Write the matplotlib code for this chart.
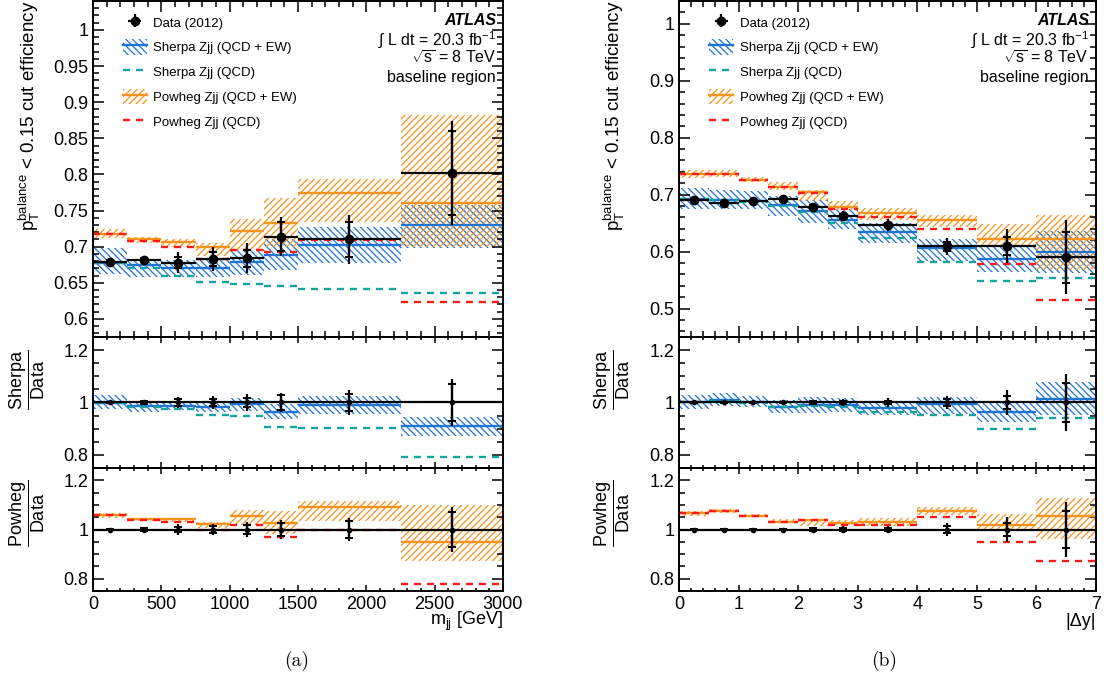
import numpy as np
import matplotlib.pyplot as plt
from matplotlib.ticker import MultipleLocator, FuncFormatter
from matplotlib.patches import Patch
from matplotlib.lines import Line2D

plt.rcParams['font.family'] = ['Liberation Sans', 'DejaVu Sans']
plt.rcParams['mathtext.fontset'] = 'custom'
plt.rcParams['mathtext.rm'] = 'Liberation Sans'
plt.rcParams['mathtext.it'] = 'Liberation Sans:italic'
plt.rcParams['mathtext.bf'] = 'Liberation Sans:bold'
plt.rcParams['hatch.linewidth'] = 0.9

BLUE = '#1f74d4'
ORANGE = '#f7931e'
TEAL = '#17a2a2'
RED = '#ff1a1a'

# (a) efficiency vs m_jj
mjj_edges = [0, 250, 500, 750, 1000, 1250, 1500, 2250, 3000]
mjj_data = [0.679, 0.682, 0.678, 0.683, 0.684, 0.714, 0.710, 0.802]
mjj_stat = [0.002, 0.003, 0.008, 0.010, 0.012, 0.020, 0.024, 0.058]
mjj_tot = [0.003, 0.005, 0.014, 0.016, 0.021, 0.027, 0.034, 0.072]
mjj_sherpa = [0.678, 0.674, 0.670, 0.671, 0.679, 0.688, 0.703, 0.730]
mjj_sherpa_lo = [0.662, 0.658, 0.658, 0.658, 0.661, 0.668, 0.678, 0.698]
mjj_sherpa_hi = [0.698, 0.682, 0.681, 0.681, 0.695, 0.711, 0.727, 0.757]
mjj_sherpa_qcd = [0.678, 0.670, 0.660, 0.651, 0.648, 0.646, 0.642, 0.636]
mjj_powheg = [0.718, 0.710, 0.707, 0.699, 0.722, 0.733, 0.774, 0.760]
mjj_powheg_lo = [0.712, 0.705, 0.700, 0.687, 0.696, 0.700, 0.734, 0.700]
mjj_powheg_hi = [0.724, 0.713, 0.711, 0.705, 0.738, 0.767, 0.793, 0.882]
mjj_powheg_qcd = [0.718, 0.708, 0.700, 0.683, 0.696, 0.692, 0.709, 0.623]

# (b) efficiency vs |delta y|
dy_edges = [0, 0.5, 1, 1.5, 2, 2.5, 3, 4, 5, 6, 7]
dy_data = [0.691, 0.685, 0.688, 0.692, 0.678, 0.662, 0.647, 0.609, 0.610, 0.590]
dy_stat = [0.002, 0.002, 0.002, 0.002, 0.003, 0.004, 0.004, 0.008, 0.016, 0.045]
dy_tot = [0.003, 0.003, 0.003, 0.004, 0.006, 0.009, 0.010, 0.015, 0.030, 0.065]
dy_sherpa = [0.693, 0.691, 0.688, 0.681, 0.671, 0.656, 0.634, 0.606, 0.587, 0.599]
dy_sherpa_lo = [0.675, 0.675, 0.675, 0.663, 0.651, 0.639, 0.615, 0.583, 0.565, 0.562]
dy_sherpa_hi = [0.712, 0.709, 0.706, 0.698, 0.691, 0.674, 0.651, 0.622, 0.608, 0.636]
dy_sherpa_qcd = [0.692, 0.690, 0.687, 0.680, 0.669, 0.651, 0.624, 0.581, 0.548, 0.554]
dy_powheg = [0.736, 0.736, 0.726, 0.714, 0.704, 0.679, 0.668, 0.656, 0.622, 0.622]
dy_powheg_lo = [0.729, 0.731, 0.722, 0.709, 0.688, 0.673, 0.656, 0.644, 0.609, 0.568]
dy_powheg_hi = [0.744, 0.743, 0.731, 0.722, 0.708, 0.688, 0.677, 0.665, 0.649, 0.665]
dy_powheg_qcd = [0.736, 0.736, 0.726, 0.714, 0.703, 0.674, 0.660, 0.639, 0.578, 0.515]

labels = ['Data (2012)', 'Sherpa Zjj (QCD + EW)', 'Sherpa Zjj (QCD)',
          'Powheg Zjj (QCD + EW)', 'Powheg Zjj (QCD)']

HATCH_B = '\\\\\\\\\\'
HATCH_O = '/////'
DASH = (0, (3.0, 2.5))


def band(ax, edges, lo, hi, color, hatch):
    e = np.asarray(edges, float)
    lo = np.asarray(lo)
    ax.bar(e[:-1], np.asarray(hi) - lo, width=np.diff(e), bottom=lo, align='edge',
           facecolor='none', edgecolor=color, hatch=hatch, linewidth=0, zorder=1)


def steps(ax, edges, vals, color, dashed=False):
    e = np.asarray(edges, float)
    ls = DASH if dashed else '-'
    ax.hlines(vals, e[:-1], e[1:], colors=color, linewidth=1.7, linestyles=ls, zorder=2)


def data_pts(ax, edges, vals, stat, tot, ms=6):
    e = np.asarray(edges, float)
    c = 0.5 * (e[:-1] + e[1:])
    eb = ax.errorbar(c, vals, yerr=tot, xerr=np.diff(e) / 2, fmt='o', color='k',
                     ms=ms, lw=1.6, capsize=0, zorder=5)
    ax.errorbar(c, vals, yerr=stat, fmt='none', ecolor='k', lw=1.6,
                capsize=3, capthick=1.4, zorder=5)
    return eb


def style(ax, xmaj, xmin, ymaj, ymin, small_x=False):
    ax.xaxis.set_major_locator(MultipleLocator(xmaj))
    ax.xaxis.set_minor_locator(MultipleLocator(xmin))
    ax.yaxis.set_major_locator(MultipleLocator(ymaj))
    ax.yaxis.set_minor_locator(MultipleLocator(ymin))
    ax.yaxis.set_major_formatter(FuncFormatter(lambda v, p: '%g' % round(v, 4)))
    ax.tick_params(which='both', direction='in', top=True, right=True,
                   labelsize=13, width=1.1)
    ax.tick_params(axis='y', which='major', length=8)
    ax.tick_params(axis='y', which='minor', length=4)
    if small_x:
        ax.tick_params(axis='x', which='major', length=4)
        ax.tick_params(axis='x', which='minor', length=2)
    else:
        ax.tick_params(axis='x', which='major', length=8)
        ax.tick_params(axis='x', which='minor', length=4)
    for s in ax.spines.values():
        s.set_linewidth(1.4)


def ratio(ax, edges, data, stat, tot, model, lo, hi, qcd, color, hatch):
    d = np.asarray(data)
    band(ax, edges, np.asarray(lo) / d, np.asarray(hi) / d, color, hatch)
    steps(ax, edges, np.asarray(model) / d, color)
    steps(ax, edges, np.asarray(qcd) / d, TEAL if color == BLUE else RED, dashed=True)
    ax.axhline(1, color='k', lw=1.3, zorder=4)
    data_pts(ax, edges, np.ones_like(d), np.asarray(stat) / d, np.asarray(tot) / d, ms=3)
    ax.set_ylim(0.75, 1.25)


fig = plt.figure(figsize=(11.13, 6.9), dpi=100)

panels = [
    (93, 410, mjj_edges, mjj_data, mjj_stat, mjj_tot, mjj_sherpa, mjj_sherpa_lo,
     mjj_sherpa_hi, mjj_sherpa_qcd, mjj_powheg, mjj_powheg_lo, mjj_powheg_hi,
     mjj_powheg_qcd, (0.575, 1.04), 0.05, 0.01, 500, 100, (0, 3000),
     r'm$_{\mathrm{jj}}$ [GeV]', '(a)', 297),
    (679, 417, dy_edges, dy_data, dy_stat, dy_tot, dy_sherpa, dy_sherpa_lo,
     dy_sherpa_hi, dy_sherpa_qcd, dy_powheg, dy_powheg_lo, dy_powheg_hi,
     dy_powheg_qcd, (0.45, 1.04), 0.1, 0.02, 1, 0.2, (0, 7),
     '|\u0394y|', '(b)', 884),
]

W, H = 1113.0, 690.0
for (x0, w, edges, data, stat, tot, sh, sh_lo, sh_hi, sh_q, pw, pw_lo, pw_hi, pw_q,
     ylim, ymaj, ymin, xmaj, xmin, xlim, xlabel, cap, capx) in panels:
    ax = fig.add_axes([x0 / W, 1 - 337 / H, w / W, 336 / H])
    ax1 = fig.add_axes([x0 / W, 1 - 468 / H, w / W, 131 / H])
    ax2 = fig.add_axes([x0 / W, 1 - 591 / H, w / W, 123 / H])

    band(ax, edges, sh_lo, sh_hi, BLUE, HATCH_B)
    band(ax, edges, pw_lo, pw_hi, ORANGE, HATCH_O)
    steps(ax, edges, sh, BLUE)
    steps(ax, edges, pw, ORANGE)
    steps(ax, edges, sh_q, TEAL, dashed=True)
    steps(ax, edges, pw_q, RED, dashed=True)
    eb = data_pts(ax, edges, data, stat, tot)
    ax.set_ylim(*ylim)
    ax.set_xlim(*xlim)
    style(ax, xmaj, xmin, ymaj, ymin)
    ax.tick_params(axis='x', labelbottom=False)
    ax.text(-0.155, 1.0, r'$\mathrm{p}_{\mathrm{T}}^{\mathrm{balance}}$ < 0.15 cut efficiency',
            rotation=90, ha='center', va='top', fontsize=13.5, transform=ax.transAxes)

    handles = [eb,
               (Patch(facecolor='none', edgecolor=BLUE, hatch=HATCH_B, linewidth=0),
                Line2D([], [], color=BLUE, lw=1.7)),
               Line2D([], [], color=TEAL, lw=1.7, ls=DASH),
               (Patch(facecolor='none', edgecolor=ORANGE, hatch=HATCH_O, linewidth=0),
                Line2D([], [], color=ORANGE, lw=1.7)),
               Line2D([], [], color=RED, lw=1.7, ls=DASH)]
    ax.legend(handles, labels, loc='upper left', bbox_to_anchor=(0.06, 0.975),
              frameon=False, fontsize=9.5, handlelength=1.8, handleheight=1.4,
              handletextpad=0.5, labelspacing=0.72, borderaxespad=0.0)

    tx = 0.983
    ax.text(tx, 0.943, 'ATLAS', weight='bold', style='italic', ha='right', va='center',
            fontsize=11.5, transform=ax.transAxes)
    ax.text(tx, 0.884, '\u222b L dt = 20.3 fb$^{-1}$', ha='right', va='center',
            fontsize=11.5, transform=ax.transAxes)
    ax.text(tx, 0.828, r'$\sqrt{\mathrm{s}}$ = 8 TeV', ha='right', va='center',
            fontsize=11.5, transform=ax.transAxes)
    ax.text(tx, 0.772, 'baseline region', ha='right', va='center',
            fontsize=11.5, transform=ax.transAxes)

    ratio(ax1, edges, data, stat, tot, sh, sh_lo, sh_hi, sh_q, BLUE, HATCH_B)
    ax1.set_xlim(*xlim)
    style(ax1, xmaj, xmin, 0.2, 0.05, small_x=True)
    ax1.tick_params(axis='x', labelbottom=False)
    ax1.text(-0.16, 0.9, r'$\dfrac{\mathrm{Sherpa}}{\mathrm{Data}}$', rotation=90,
             ha='center', va='top', fontsize=13, transform=ax1.transAxes)

    ratio(ax2, edges, data, stat, tot, pw, pw_lo, pw_hi, pw_q, ORANGE, HATCH_O)
    ax2.set_xlim(*xlim)
    style(ax2, xmaj, xmin, 0.2, 0.05, small_x=True)
    ax2.text(-0.16, 0.9, r'$\dfrac{\mathrm{Powheg}}{\mathrm{Data}}$', rotation=90,
             ha='center', va='top', fontsize=13, transform=ax2.transAxes)
    ax2.text(1.0, -0.25, xlabel, ha='right', va='center', fontsize=13,
             transform=ax2.transAxes)

    fig.text(capx / W, 1 - 661 / H, cap, family='cmr10', fontsize=14,
             ha='center', va='center')

fig.savefig('out.png', dpi=100)
